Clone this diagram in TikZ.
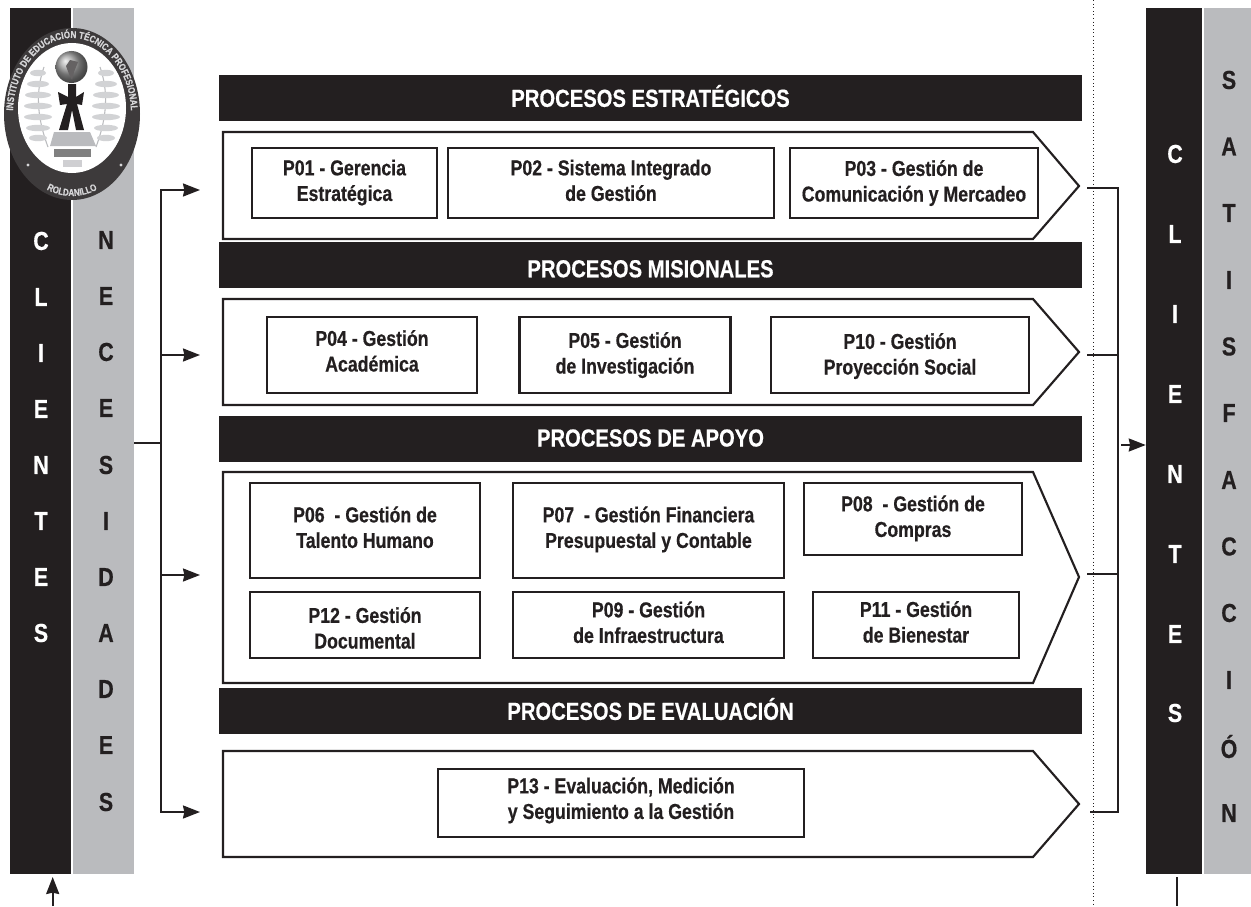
\documentclass[tikz,border=0pt]{standalone}
\usepackage{fontspec}
\setmainfont[FakeStretch=0.82,BoldFont={Liberation Sans Bold},BoldFeatures={FakeStretch=0.82,FakeBold=0.5}]{Liberation Sans}
\usetikzlibrary{arrows.meta,decorations.text}
\definecolor{ink}{HTML}{231F20}
\definecolor{band}{HTML}{BABBBE}
\tikzset{
 x=0.75pt,y=-0.75pt,
 lbl/.style={font=\fontsize{16.2}{19.2}\selectfont\bfseries,text=ink,align=center,inner sep=0pt},
 pbox/.style={draw=ink,line width=1.6pt,fill=white},
 head/.style={fill=ink,text=white,font=\fontsize{18.5}{22}\selectfont\bfseries,inner sep=0pt,anchor=center,text height=13.25pt,text depth=0pt},
 chev/.style={draw=ink,line width=1.6pt,fill=white,line join=miter},
 vw/.style={font=\fontsize{19.5}{22}\selectfont\bfseries,text=white,inner sep=0pt},
 vk/.style={font=\fontsize{19.5}{22}\selectfont\bfseries,text=ink,inner sep=0pt},
 conn/.style={draw=ink,line width=1.5pt},
 arr/.style={draw=ink,line width=1.5pt,-{Stealth[length=12.75pt,width=9.75pt,inset=1pt]}},
}
% box: centre x, centre y, width, height, name, text y, first line, second line
\newcommand{\pbx}[8]{\node[pbox,minimum width=#3*0.75pt,minimum height=#4*0.75pt] (#5) at (#1,#2) {};
 \node[lbl] (#5t) at (#1,#6) {\strut #7\\ \strut #8};}
\begin{document}
\begin{tikzpicture}
\useasboundingbox (0,0) rectangle (1251,906);
% side bands
\node[fill=ink,minimum width=61*0.75pt,minimum height=866*0.75pt,inner sep=0pt] (cl) at (40.5,441) {};
\node[fill=band,minimum width=61*0.75pt,minimum height=866*0.75pt,inner sep=0pt] (ne) at (103.5,441) {};
\node[fill=ink,minimum width=56*0.75pt,minimum height=866*0.75pt,inner sep=0pt] (cr) at (1174,441) {};
\node[fill=band,minimum width=47*0.75pt,minimum height=866*0.75pt,inner sep=0pt] (sa) at (1227.5,441) {};
% dotted line
\draw[ink,line width=0.7pt,dotted] (1093.5,0) -- (1093.5,906);
% logo
\fill[ink!88!white] (72,114) ellipse[x radius=68,y radius=86];
\fill[white] (72,108) ellipse[x radius=54,y radius=65];
\path[decorate,decoration={text along path,text align=center,text color=band!60!white,
 text={|\fontsize{7.4}{8}\selectfont\bfseries|INSTITUTO DE EDUCACIÓN TÉCNICA PROFESIONAL}}]
 (72,114) ++(158:59 and 76) arc[start angle=158,end angle=382,x radius=59,y radius=76];
\path[decorate,decoration={text along path,text align=center,text color=band!60!white,
 text={|\fontsize{7.4}{8}\selectfont\bfseries|ROLDANILLO}}]
 (72,114) ++(125:65 and 82) arc[start angle=125,end angle=55,x radius=65,y radius=82];
\fill[band!60!white] (28,165) circle[radius=1.6];
\fill[band!60!white] (121,165) circle[radius=1.6];
% leaves
\foreach \s in {-1,1}{
 \begin{scope}[shift={(72,105)},xscale=\s]
  \draw[band,line width=0.8pt] (24,42) .. controls (36,10) and (36,-15) .. (28,-38);
  \foreach \yy/\r in {-32/8,-21/11,-10/13,1/14,12/14,23/12,33/9}{
   \fill[band!65!white] (34,\yy) ellipse[x radius=\r,y radius=3.2];
  }
 \end{scope}
}
\shade[ball color=gray!75!white] (71.5,67) circle[radius=16];
\fill[ink!70!white] (66,66) -- (70,60) -- (78,62) -- (74,72) -- (72,80) -- (69,74) -- cycle;
\fill[ink] (58,92) -- (68,97) -- (68,84) -- (76,84) -- (76,97) -- (84,92) -- (82,105) -- (77,104) -- (84,130) -- (76,130) -- (72,110) -- (68,130) -- (59,130) -- (67,104) -- (60,105) -- cycle;
\fill[band] (54,132) -- (90,132) -- (96,146) -- (50,146) -- cycle;
\fill[gray] (54,149) rectangle (91,157);
\fill[band!70!white] (63,160) rectangle (82,167);
% band letters
\foreach \c/\y in {C/241,L/297,I/353,E/409,N/465,T/521,E/577,S/633}{\node[vw] at (41,\y) {\c};}
\foreach \c/\y in {N/240,E/296,C/352,E/408,S/465,I/521,D/577,A/633,D/689,E/745,S/802}{\node[vk] at (106,\y) {\c};}
\foreach \c/\y in {C/154,L/234,I/314,E/394,N/474,T/554,E/634,S/713}{\node[vw] at (1175,\y) {\c};}
\foreach \c/\y in {S/80,A/146.5,T/213,I/280,S/346.5,F/413,A/480,C/546.5,C/613,I/680,Ó/746.5,N/813}{\node[vk] at (1229,\y) {\c};}
% headers
\node[head,minimum width=863*0.75pt,minimum height=46*0.75pt] (h1) at (650.5,98) {PROCESOS ESTRATÉGICOS};
\node[head,minimum width=863*0.75pt,minimum height=46*0.75pt] (h2) at (650.5,265) {\raisebox{-2.6pt}{PROCESOS MISIONALES}};
\node[head,minimum width=863*0.75pt,minimum height=46*0.75pt] (h3) at (650.5,439) {\raisebox{1pt}{PROCESOS DE APOYO}};
\node[head,minimum width=863*0.75pt,minimum height=46*0.75pt] (h4) at (650.5,711) {PROCESOS DE EVALUACIÓN};
% chevrons
\draw[chev] (223,132) -- (1033,132) -- (1079,186) -- (1033,239) -- (223,239) -- cycle;
\draw[chev] (223,299) -- (1033,299) -- (1079,352) -- (1033,405) -- (223,405) -- cycle;
\draw[chev] (223,472) -- (1033,472) -- (1079,577) -- (1033,683) -- (223,683) -- cycle;
\draw[chev] (223,751) -- (1033,751) -- (1079,804) -- (1033,857) -- (223,857) -- cycle;
% boxes
\pbx{344.5}{183}{185}{70}{p01}{183}{P01 - Gerencia}{Estratégica}
\pbx{611}{183}{326}{70}{p02}{183}{P02 - Sistema Integrado}{de Gestión}
\pbx{914}{183}{248}{70}{p03}{183.6}{P03 - Gestión de}{Comunicación y Mercadeo}
\pbx{372}{355}{210}{76}{p04}{353.6}{P04 - Gestión}{Académica}
\pbx{625}{355}{211}{76}{p05}{355.6}{P05 - Gestión}{de Investigación}
\pbx{900}{355}{258}{76}{p10}{356.6}{P10 - Gestión}{Proyección Social}
\pbx{365}{530.5}{230}{95}{p06}{530}{P06~ - Gestión de}{Talento Humano}
\pbx{648.5}{530.5}{271}{95}{p07}{530}{P07~ - Gestión Financiera}{Presupuestal y Contable}
\pbx{913}{519}{218}{72}{p08}{519}{P08~ - Gestión de}{Compras}
\pbx{365}{625}{230}{66}{p12}{630.6}{P12 - Gestión}{Documental}
\pbx{648.5}{625}{271}{66}{p09}{625}{P09 - Gestión}{de Infraestructura}
\pbx{916}{625}{206}{66}{p11}{624.6}{P11 - Gestión}{de Bienestar}
\pbx{621}{803}{366}{68}{p13}{801}{P13 - Evaluación, Medición}{y Seguimiento a la Gestión}
% left connectors
\coordinate (ta) at (200,190);\coordinate (tb) at (200,355);\coordinate (tc) at (200,575);\coordinate (td) at (200,812);
\coordinate (jl) at (161,443);
\draw[conn] (ne.east |- jl) -- (jl);
\draw[arr] (jl) |- (ta);
\draw[arr] (jl) |- (tb);
\draw[arr] (jl) |- (tc);
\draw[arr] (jl) |- (td);
% right connectors
\coordinate (jr) at (1117.5,445);
\coordinate (s1) at (1087,188);\coordinate (s2) at (1087,355);\coordinate (s3) at (1087,574);\coordinate (s4) at (1090,812);
\draw[conn] (s1) -| (jr);
\draw[conn] (s4) -| (jr);
\draw[conn] (s2) -- (s2 -| jr);
\draw[conn] (s3) -- (s3 -| jr);
\coordinate (ja) at (1121,445);
\draw[arr] (ja) -- (cr.west |- ja);
% bottom
\coordinate (bl0) at (52.7,906);\coordinate (bl1) at (52.7,877);
\draw[arr] (bl0) -- (bl1);
\coordinate (br0) at (1176.7,877);\coordinate (br1) at (1176.7,906);
\draw[ink,line width=1.7pt] (br0) -- (br1);
\end{tikzpicture}
\end{document}
